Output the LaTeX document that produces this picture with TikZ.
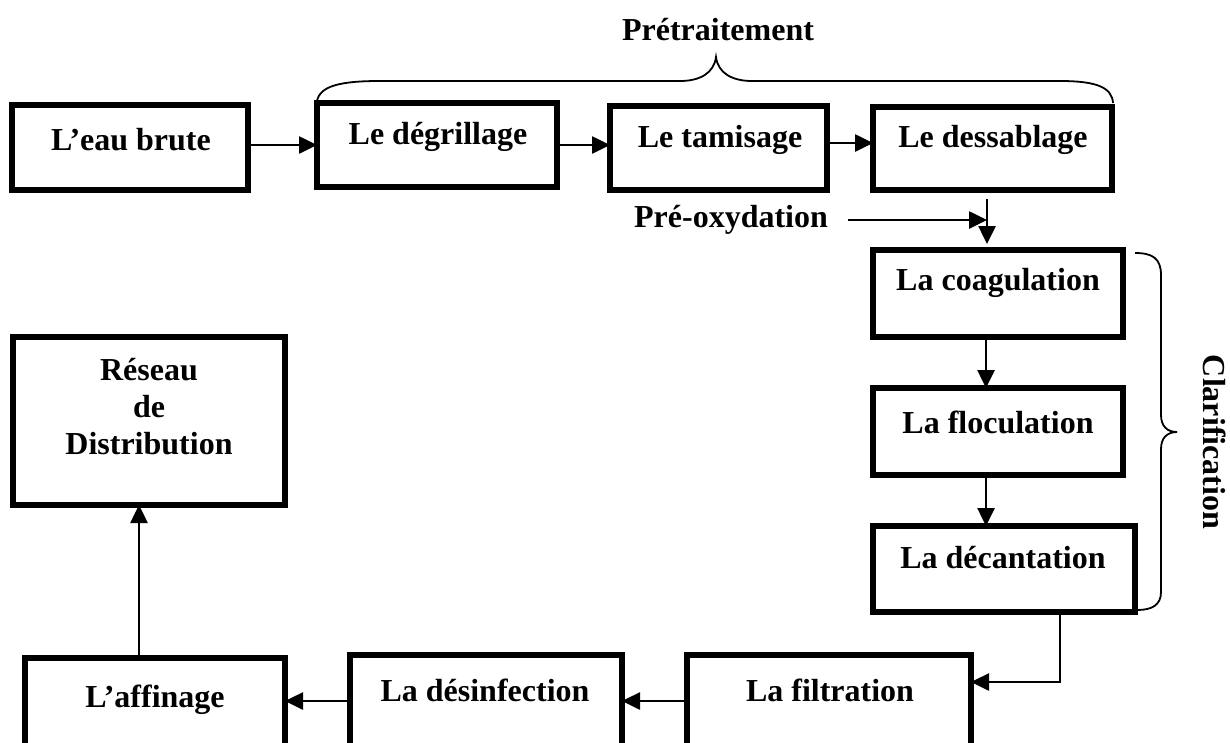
\documentclass[tikz,border=0pt]{standalone}
\usepackage{fontspec}
\setmainfont{Liberation Serif}
\usetikzlibrary{arrows.meta}
\tikzset{
  box/.style={draw, line width=5.5pt, anchor=north west, inner sep=0pt, outer sep=0pt},
  lbl/.style={font=\bfseries\fontsize{32}{37}\selectfont, inner sep=0pt, align=center},
  conn/.style={line width=2.6pt, -{Triangle[length=18pt,width=17pt]}},
  brc/.style={line width=1.8pt},
}
\begin{document}
\begin{tikzpicture}[x=1pt,y=-1pt]
\clip (0,0) rectangle (1230,742);
\fill[white] (0,0) rectangle (1230,742);
% boxes
\node[box, minimum width=236pt, minimum height=85pt] (raw) at (12,105) {};
\node[box, minimum width=240pt, minimum height=84pt] (degr) at (317,103) {};
\node[box, minimum width=217pt, minimum height=84pt] (tami) at (610,106) {};
\node[box, minimum width=239pt, minimum height=83pt] (dess) at (873,107) {};
\node[box, minimum width=250pt, minimum height=87pt] (coag) at (873,250) {};
\node[box, minimum width=250pt, minimum height=87pt] (floc) at (873,388) {};
\node[box, minimum width=262pt, minimum height=86pt] (deca) at (873,526) {};
\node[box, minimum width=284pt, minimum height=125pt] (filt) at (687,655) {};
\node[box, minimum width=272pt, minimum height=125pt] (desi) at (350,655) {};
\node[box, minimum width=260pt, minimum height=125pt] (affi) at (25,658) {};
\node[box, minimum width=272pt, minimum height=168pt] (rese) at (13,337) {};
% labels
\node[lbl] (traw) at (131,140) {L’eau brute};
\node[lbl] (tdegr) at (438,137) {Le dégrillage};
\node[lbl] (ttami) at (720,140) {Le tamisage};
\node[lbl] (tdess) at (993,140) {Le dessablage};
\node[lbl] (tcoag) at (998,283) {La coagulation};
\node[lbl] (tfloc) at (998,422) {La floculation};
\node[lbl] (tdeca) at (1003,558) {La décantation};
\node[lbl] (tfilt) at (830,690) {La filtration};
\node[lbl] (tdesi) at (485,690) {La désinfection};
\node[lbl] (taffi) at (155,700) {L’affinage};
\node[lbl] (trese) at (149,407) {Réseau\\de\\Distribution};
\node[lbl] (tpre) at (718,30) {Prétraitement};
\node[lbl] (tpox) at (731,220) {Pré-oxydation};
\node[lbl, rotate=-90] (tcla) at (1215,442) {Clarification};
% helper coordinates
\coordinate (vx) at (987,0);
\coordinate (cx) at (986,0);
\coordinate (y1) at (0,145);
\coordinate (y2) at (0,143);
\coordinate (yb) at (0,701);
\coordinate (c1) at (1060,682);
\coordinate (ax) at (139,0);
% connectors
\draw[conn] (raw.east |- y1) -- (degr.west |- y1);
\draw[conn] (degr.east |- y1) -- (tami.west |- y1);
\draw[conn] (tami.east |- y2) -- (dess.west |- y2);
\draw[conn, shorten <=20pt] (tpox.east) -- (vx |- tpox.east);
\draw[conn, shorten <=9pt, shorten >=6pt] (dess.south -| vx) -- (coag.north -| vx);
\draw[conn] (coag.south -| cx) -- (floc.north -| cx);
\draw[conn] (floc.south -| cx) -- (deca.north -| cx);
\draw[conn] (deca.south -| c1) -- (c1) -- (c1 -| filt.east);
\draw[conn] (filt.west |- yb) -- (desi.east |- yb);
\draw[conn] (desi.west |- yb) -- (affi.east |- yb);
\draw[conn] (affi.north -| ax) -- (rese.south -| ax);
% braces
\draw[brc] (317,101) .. controls (320,86) and (340,81) .. (380,81) -- (680,81)
  .. controls (700,81) and (714,73) .. (716,57)
  .. controls (718,73) and (732,81) .. (752,81) -- (1060,81)
  .. controls (1098,81) and (1112,88) .. (1113,103);
\draw[brc] (1135,253) .. controls (1152,253) and (1161,258) .. (1161,275) -- (1161,415)
  .. controls (1161,426) and (1167,432) .. (1177,432)
  .. controls (1167,432) and (1161,438) .. (1161,449) -- (1161,592)
  .. controls (1161,605) and (1152,610) .. (1137,610);
\end{tikzpicture}
\end{document}
